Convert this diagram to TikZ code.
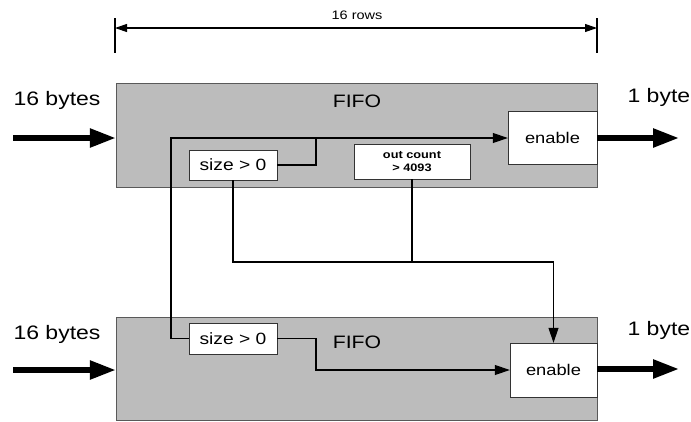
\documentclass[tikz,border=0pt]{standalone}
\usepackage{fontspec}
\setmainfont{Liberation Sans}[FakeStretch=1.18]
\usetikzlibrary{arrows.meta}

\definecolor{fifogray}{RGB}{188,188,188}

\tikzset{
    fifo/.style={draw=black!65, fill=fifogray, inner sep=0pt, minimum width=481pt},
    logic/.style={draw=black!80, fill=white, inner sep=0pt},
    wire/.style={line width=1.1pt},
    sig/.style={wire, -{Triangle[length=15pt,width=10pt]}},
    fat/.style={line width=5.5pt, -{Triangle[length=26pt,width=18pt]}},
    big/.style={font=\fontsize{19.5}{22}\selectfont},
}

\begin{document}
\begin{tikzpicture}[x=1pt,y=-1pt]
    \useasboundingbox[fill=white] (0,0) rectangle (691,421);

    % Draw the two FIFO blocks
    \node[fifo, minimum height=104pt] (fifoA) at (356.5,135) {};
    \node[fifo, minimum height=103pt] (fifoB) at (356.5,368.5) {};
    \node[font=\fontsize{18}{20}\selectfont] (fifoAtxt) at (357,101) {FIFO};
    \node[font=\fontsize{18}{20}\selectfont] (fifoBtxt) at (357,342.5) {FIFO};

    % Draw logic boxes
    \node[logic, minimum width=89pt, minimum height=53pt, font=\fontsize{15.5}{18}\selectfont] (enA) at (552.5,137.5) {enable};
    \node[logic, minimum width=87pt, minimum height=54pt, font=\fontsize{15.5}{18}\selectfont] (enB) at (553.5,370) {enable};
    \node[logic, minimum width=88pt, minimum height=30pt, font=\fontsize{16.3}{18}\selectfont] (sizeA) at (233,165) {size > 0};
    \node[logic, minimum width=88pt, minimum height=31pt, font=\fontsize{16.3}{18}\selectfont] (sizeB) at (233,338.5) {size > 0};
    \node[logic, minimum width=116pt, minimum height=35pt, align=center,
          font=\bfseries\fontsize{10.8}{13}\selectfont] (count) at (412,161.5) {out count\\> 4093};

    % Wires between the blocks
    \coordinate (jA) at (316,138);
    \coordinate (kA) at (171,138);
    \coordinate (jB) at (316,370);
    \coordinate (bus) at (412,262);
    \draw[sig] (sizeA.east) -| (jA) -- (enA.west |- jA);
    \draw[wire] (jA) -- (kA) |- (sizeB.west);
    \draw[sig] (sizeB.east) -| (jB) -- (enB.west |- jB);
    \draw[wire] (count.south) -- (bus);
    \draw[sig] (sizeA.south) |- (bus) -| (enB.north);

    % Data in and out
    \coordinate (inA) at (13,138);
    \coordinate (inB) at (13,370);
    \coordinate (outA) at (679,138);
    \coordinate (outB) at (679,369);
    \draw[fat] (inA) -- (inA -| fifoA.west);
    \draw[fat] (inB) -- (inB -| fifoB.west);
    \draw[fat] (enA.east |- outA) -- (outA);
    \draw[fat] (enB.east |- outB) -- (outB);
    \node[big, anchor=west] (inAtxt) at (10,100) {16 bytes};
    \node[big, anchor=west] (inBtxt) at (10,334) {16 bytes};
    \node[big, anchor=west] (outAtxt) at (624,97) {1 byte};
    \node[big, anchor=west] (outBtxt) at (624,330) {1 byte};

    % Width of the array
    \coordinate (dimL) at (115,28);
    \coordinate (dimR) at (597,28);
    \draw[line width=1.1pt] (115,18) -- (115,53);
    \draw[line width=1.1pt] (597,18) -- (597,53);
    \draw[wire, {Triangle[length=12pt,width=8pt]}-{Triangle[length=12pt,width=8pt]}] (dimL) -- (dimR);
    \node[font=\fontsize{12.3}{14}\selectfont] (rows) at (357,15) {16 rows};
\end{tikzpicture}
\end{document}
